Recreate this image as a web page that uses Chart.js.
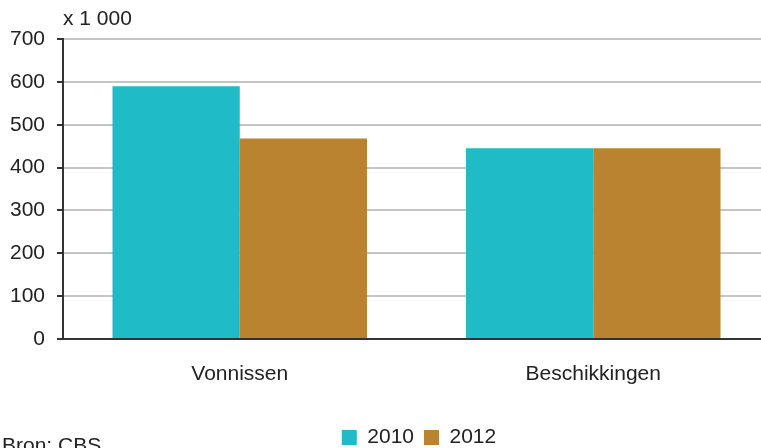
<!DOCTYPE html>
<html>
<head>
<meta charset="utf-8">
<script src="https://cdn.jsdelivr.net/npm/chart.js@4"></script>
<style>
  html, body { margin: 0; padding: 0; background: #fff; }
  #wrap { position: relative; width: 761px; height: 448px; overflow: hidden; font-family: 'Liberation Sans', Arial, sans-serif; color: #222; }
  #wrap canvas { position: absolute; left: 0; top: 0; }
  .note { position: absolute; font-size: 21px; line-height: 21px; white-space: nowrap; }
</style>
</head>
<body>
<div id="wrap">
  <canvas id="chart" width="770" height="458"></canvas>
  <div class="note" style="left:63px; top:7px;">x 1 000</div>
  <div class="note" style="left:2px; top:434px;">Bron: CBS</div>
</div>
<script>
// values (x 1 000)
const categories = ['Vonnissen', 'Beschikkingen'];
const seriesLabels = ['2010', '2012'];
const values2010 = [590, 445];
const values2012 = [468, 445];
const yTicks = [0, 100, 200, 300, 400, 500, 600, 700];

const TEAL = '#1fbbc6';
const BROWN = '#b98330';
const FONT = "'Liberation Sans', Arial, sans-serif";

// nudge the legend to the right, as in the original
const shiftLegend = {
  id: 'shiftLegend',
  afterLayout(chart) {
    chart.legend.left += 34;
    chart.legend.right += 34;
  },
};

new Chart(document.getElementById('chart'), {
  type: 'bar',
  data: {
    labels: categories,
    datasets: [
      { label: seriesLabels[0], data: values2010, backgroundColor: TEAL },
      { label: seriesLabels[1], data: values2012, backgroundColor: BROWN },
    ],
  },
  options: {
    responsive: false,
    devicePixelRatio: 1,
    animation: false,
    barPercentage: 1,
    categoryPercentage: 0.72,
    layout: { padding: { top: 39, left: 0, right: 0, bottom: 0 } },
    plugins: {
      tooltip: { enabled: false },
      legend: {
        position: 'bottom',
        labels: { boxWidth: 15, boxHeight: 15, padding: 10, color: '#222', font: { family: FONT, size: 21 } },
      },
    },
    scales: {
      x: {
        grid: { display: false },
        border: { display: true, color: '#333', width: 2 },
        ticks: { color: '#222', padding: 15, font: { family: FONT, size: 21 } },
        afterFit: s => { s.height = 78; },
      },
      y: {
        min: 0,
        max: 700,
        afterBuildTicks: s => { s.ticks = yTicks.map(v => ({ value: v })); },
        grid: {
          color: c => (c.tick && c.tick.value === 0 ? '#333' : '#c4c4c4'),
          lineWidth: 2,
          tickColor: '#333',
          tickLength: 6,
        },
        border: { display: true, color: '#333', width: 2 },
        ticks: { color: '#222', padding: 12, font: { family: FONT, size: 21 } },
        afterFit: s => { s.width = 63; },
      },
    },
  },
  plugins: [shiftLegend],
});
</script>
</body>
</html>
